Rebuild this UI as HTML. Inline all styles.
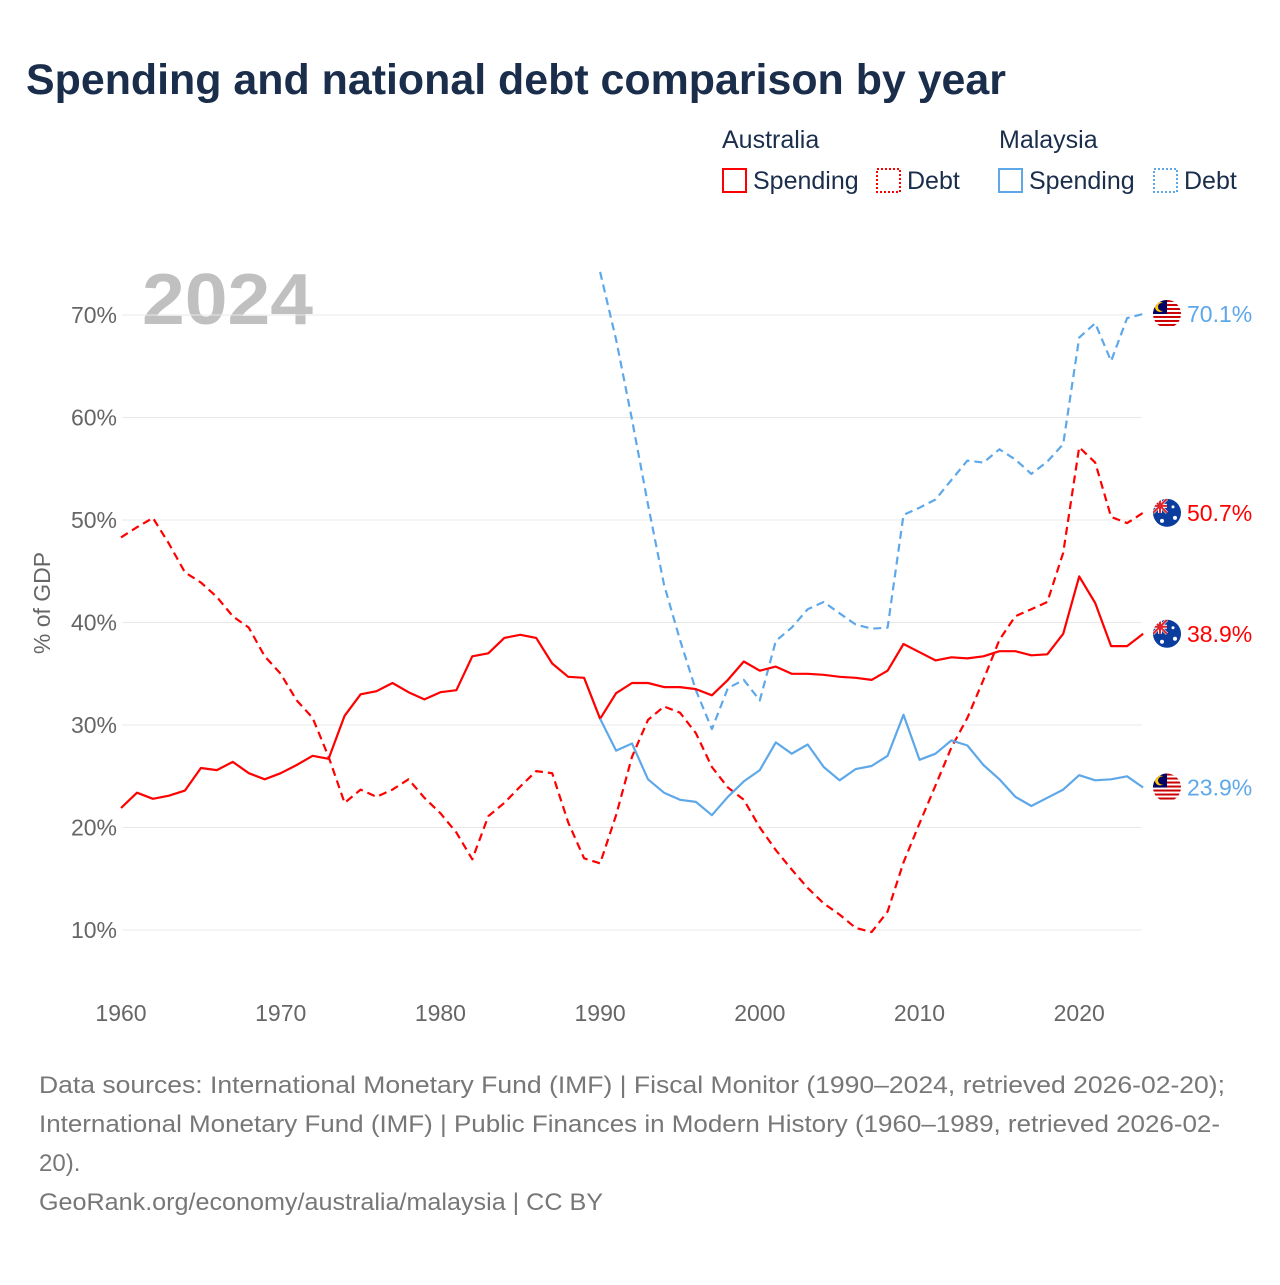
<!DOCTYPE html>
<html><head><meta charset="utf-8"><style>
body{margin:0;background:#fff;width:1280px;height:1280px;overflow:hidden;font-family:"Liberation Sans",sans-serif}
</style></head><body>
<svg width="1280" height="1280" xmlns="http://www.w3.org/2000/svg" font-family="Liberation Sans, sans-serif">
<text x="26" y="94" font-size="43" font-weight="bold" fill="#1a2e4c" textLength="980" lengthAdjust="spacingAndGlyphs">Spending and national debt comparison by year</text>
<g font-size="25" fill="#1a2e4c">
<text x="722" y="148">Australia</text>
<text x="999" y="148">Malaysia</text>
<g><rect x="723" y="169" width="23" height="23" fill="none" stroke="#ff0000" stroke-width="2"/><text x="753" y="189">Spending</text></g>
<g><rect x="877" y="169" width="23" height="23" fill="none" stroke="#ff0000" stroke-width="2" stroke-dasharray="2,2"/><text x="907" y="189">Debt</text></g>
<g><rect x="999" y="169" width="23" height="23" fill="none" stroke="#5ea8ea" stroke-width="2"/><text x="1029" y="189">Spending</text></g>
<g><rect x="1154" y="169" width="23" height="23" fill="none" stroke="#5ea8ea" stroke-width="2" stroke-dasharray="2,2"/><text x="1184" y="189">Debt</text></g>
</g>
<text x="142" y="324" font-size="72" font-weight="bold" fill="#c0c0c0" textLength="171" lengthAdjust="spacingAndGlyphs">2024</text>
<g id="grid"></g>
<g id="yticks" font-size="23" fill="#666"></g>
<g id="xticks" font-size="23" fill="#666"></g>
<text transform="translate(50,603) rotate(-90)" text-anchor="middle" font-size="23" fill="#666">% of GDP</text>
<g id="series"></g>
<defs id="defs"></defs>
<g id="ends"></g>
<g font-size="24" fill="#777">
<text x="39" y="1093" textLength="1186" lengthAdjust="spacingAndGlyphs">Data sources: International Monetary Fund (IMF) | Fiscal Monitor (1990–2024, retrieved 2026-02-20);</text>
<text x="39" y="1132" textLength="1181" lengthAdjust="spacingAndGlyphs">International Monetary Fund (IMF) | Public Finances in Modern History (1960–1989, retrieved 2026-02-</text>
<text x="39" y="1171">20).</text>
<text x="39" y="1210" textLength="564" lengthAdjust="spacingAndGlyphs">GeoRank.org/economy/australia/malaysia | CC BY</text>
</g>
</svg>
<script>
const yTicks=[10,20,30,40,50,60,70];
const xTicks=[1960,1970,1980,1990,2000,2010,2020];
const ausYears0=1960, mysYears0=1990;
const ausSpending=[21.9,23.4,22.8,23.1,23.6,25.8,25.6,26.4,25.3,24.7,25.3,26.1,27.0,26.7,30.9,33.0,33.3,34.1,33.2,32.5,33.2,33.4,36.7,37.0,38.5,38.8,38.5,36.0,34.7,34.6,30.6,33.1,34.1,34.1,33.7,33.7,33.5,32.9,34.4,36.2,35.3,35.7,35.0,35.0,34.9,34.7,34.6,34.4,35.3,37.9,37.1,36.3,36.6,36.5,36.7,37.2,37.2,36.8,36.9,38.9,44.5,41.9,37.7,37.7,38.9];
const ausDebt=[48.3,49.3,50.2,47.7,44.9,43.9,42.5,40.6,39.5,36.7,35.0,32.4,30.7,26.9,22.4,23.7,23.0,23.7,24.7,22.9,21.4,19.5,16.9,21.1,22.4,24.0,25.5,25.3,20.5,17.0,16.5,21.2,26.9,30.5,31.8,31.2,29.2,25.9,23.9,22.7,20.0,17.8,15.9,14.1,12.6,11.5,10.2,9.8,11.8,16.6,20.4,24.1,27.8,30.7,34.4,38.3,40.6,41.3,42.0,46.8,57.1,55.6,50.3,49.7,50.7];
const mysSpending=[30.6,27.5,28.2,24.7,23.4,22.7,22.5,21.2,23.0,24.5,25.6,28.3,27.2,28.1,25.9,24.6,25.7,26.0,27.0,31.0,26.6,27.2,28.5,28.0,26.1,24.7,23.0,22.1,22.9,23.7,25.1,24.6,24.7,25.0,23.9];
const mysDebt=[74.2,67.6,59.8,51.5,43.7,38.3,33.4,29.6,33.6,34.4,32.4,38.2,39.5,41.3,42.0,40.9,39.8,39.4,39.5,50.5,51.2,52.0,53.9,55.8,55.6,56.9,55.9,54.5,55.7,57.4,67.8,69.2,65.5,69.7,70.1];

const NS='http://www.w3.org/2000/svg';
const X=yr=>121+(yr-1960)*15.97;
const Y=v=>315+(70-v)*10.25;
function mk(tag,attrs,parent){const e=document.createElementNS(NS,tag);for(const k in attrs)e.setAttribute(k,attrs[k]);parent.appendChild(e);return e;}
const grid=document.getElementById('grid'),yt=document.getElementById('yticks'),xt=document.getElementById('xticks');
yTicks.forEach(v=>{
  const l=mk('line',{x1:122,x2:1142,y1:Y(v),y2:Y(v),stroke:'#e8e8e8','stroke-width':1},grid);
  
  
  const t=mk('text',{x:117,y:Y(v)+8,'text-anchor':'end'},yt);t.textContent=v+'%';
  
  
});
xTicks.forEach(yr=>{
  const t=mk('text',{x:X(yr),y:1021,'text-anchor':'middle'},xt);t.textContent=yr;
  
  
});
const S=document.getElementById('series');
function line(vals,y0,color,dash,name){
  const d=vals.map((v,i)=>(i?'L':'M')+X(y0+i).toFixed(1)+','+Y(v).toFixed(1)).join(' ');
  const p=mk('path',{d:d,fill:'none',stroke:color,'stroke-width':2.2,'stroke-linejoin':'round'},S);
  if(dash)p.setAttribute('stroke-dasharray','8,5');
  
  
}
line(ausDebt,ausYears0,'#ff0000',true,'line-australia-debt');
line(mysDebt,mysYears0,'#5ea8ea',true,'line-malaysia-debt');
line(ausSpending,ausYears0,'#ff0000',false,'line-australia-spending');
line(mysSpending,mysYears0,'#5ea8ea',false,'line-malaysia-spending');
const E=document.getElementById('ends'),D=document.getElementById('defs');
let cid=0;
function endLabel(vals,color,flag,name){
  const v=vals[vals.length-1];const y=Y(v);
  const id='clip'+(cid++);
  const cp=mk('clipPath',{id:id},D);mk('circle',{cx:1167,cy:y,r:14},cp);
  const g=mk('g',{},E);
  
  
  const f=mk('g',{'clip-path':'url(#'+id+')'},g);
  if(flag==='aus'){
    mk('rect',{x:1150,y:y-16,width:34,height:32,fill:'#0a3d9e'},f);
    mk('path',{d:`M1153 ${y-14} L1167 ${y} M1167 ${y-14} L1153 ${y}`,stroke:'#fff','stroke-width':3},f);
    mk('path',{d:`M1160 ${y-14} V${y} M1153 ${y-7} H1167`,stroke:'#fff','stroke-width':4},f);
    mk('path',{d:`M1153 ${y-14} L1167 ${y} M1167 ${y-14} L1153 ${y} M1160 ${y-14} V${y} M1153 ${y-7} H1167`,stroke:'#e0242b','stroke-width':2},f);
    mk('circle',{cx:1175,cy:y+5,r:2,fill:'#fff'},f);mk('circle',{cx:1173,cy:y-6,r:1.5,fill:'#fff'},f);mk('circle',{cx:1162,cy:y+8,r:2,fill:'#fff'},f);
  } else {
    mk('rect',{x:1150,y:y-16,width:34,height:32,fill:'#fff'},f);
    for(let i=0;i<8;i++)mk('rect',{x:1150,y:y-14+i*4,width:34,height:2,fill:'#cc0000'},f);
    mk('rect',{x:1150,y:y-16,width:17,height:16,fill:'#010066'},f);
    mk('circle',{cx:1160,cy:y-7,r:5,fill:'#ffcc00'},f);mk('circle',{cx:1162,cy:y-7,r:4,fill:'#010066'},f);
  }
  const t=mk('text',{x:1187,y:y+8,'font-size':23,fill:color},g);t.textContent=v.toFixed(1)+'%';
}
endLabel(mysDebt,'#5ea8ea','mys','end-label-malaysia-debt');
endLabel(ausDebt,'#ff0000','aus','end-label-australia-debt');
endLabel(ausSpending,'#ff0000','aus','end-label-australia-spending');
endLabel(mysSpending,'#5ea8ea','mys','end-label-malaysia-spending');
</script>
</body></html>
